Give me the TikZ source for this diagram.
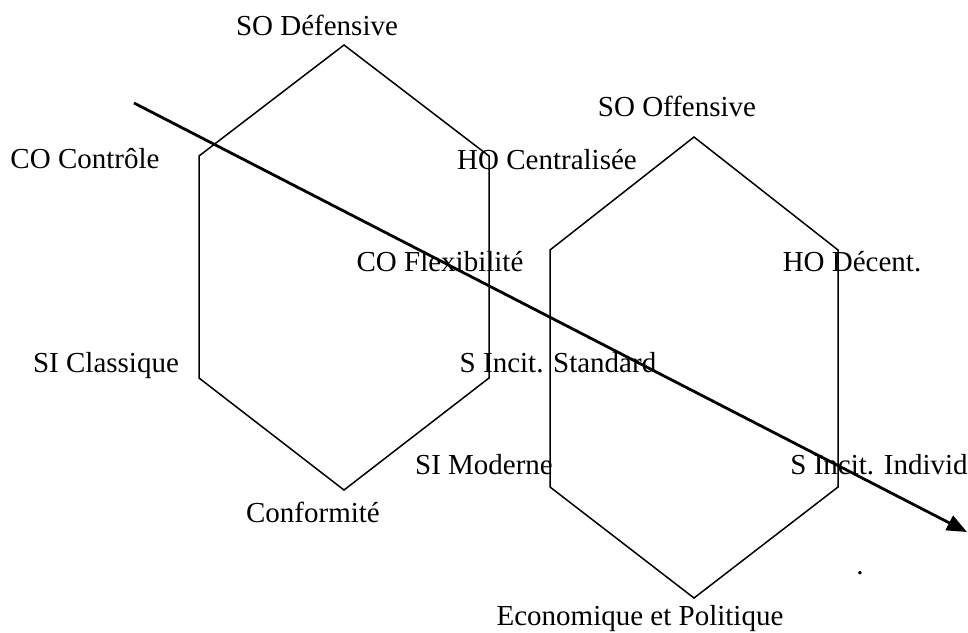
\documentclass[tikz,border=0pt]{standalone}
\usepackage{fontspec}
\setmainfont{Liberation Serif}
\usetikzlibrary{arrows.meta}

\begin{document}
\begin{tikzpicture}[x=0.5pt, y=-0.5pt,
    lbl/.style={font=\fontsize{14.5}{17}\selectfont, inner sep=0pt, anchor=base},
    hexline/.style={line width=0.75pt, line join=miter}]
			\useasboundingbox (0,0) rectangle (968,632);
			
			\draw[hexline] (344,45) -- (489,156) -- (489,378) -- (344,490) -- (199,378) -- (199,156) -- cycle;
			\draw[hexline] (694,137) -- (838,250) -- (838,487) -- (694,598) -- (550,487) -- (550,250) -- cycle;
			
			\coordinate (start) at (134,103);
			\coordinate (end) at (967,532);
			\draw[-{Triangle[length=10pt, width=8pt]}, line width=1.4pt] (start) -- (end);
			
			\node[lbl] (sodef) at (317,35) {SO Défensive};
			\node[lbl] (cocont) at (85,168) {CO Contrôle};
			\node[lbl] (hocent) at (547,169) {HO Centralisée};
			\node[lbl] (sooff) at (677,116) {SO Offensive};
			\node[lbl] (coflex) at (440,271) {CO Flexibilité};
			\node[lbl] (hodec) at (852,271) {HO Décent.};
			\node[lbl] (siclass) at (106,372) {SI Classique};
			\node[lbl] (sistd) at (558,372) {S Incit. Standard};
			\node[lbl] (simod) at (484,474) {SI Moderne};
			\node[lbl] (siind) at (879,474) {S Incit. Individ};
			\node[lbl] (conf) at (313,522) {Conformité};
			\node[lbl] (dot) at (860,574) {.};
			\node[lbl] (ecopol) at (640,625) {Economique et Politique};
			
		\end{tikzpicture}
\end{document}
